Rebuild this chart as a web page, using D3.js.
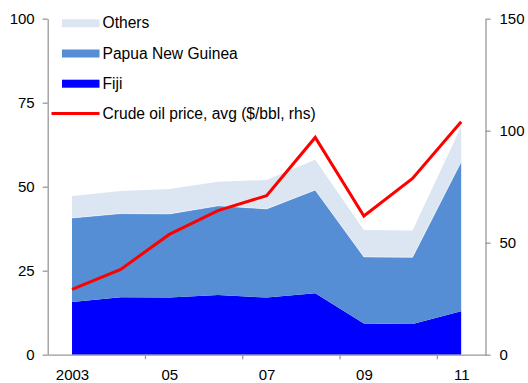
<!DOCTYPE html>
<html>
<head>
<meta charset="utf-8">
<script src="https://cdn.jsdelivr.net/npm/d3@7"></script>
<style>
  html, body { margin: 0; padding: 0; background: #fff; }
  svg { display: block; font-family: "Liberation Sans", Arial, sans-serif; }
</style>
</head>
<body>
<svg id="chart" width="528" height="383"></svg>
<script>
// Gas exports share by country (lhs, %) and crude oil price (rhs, $/bbl)
const years = [2003, 2004, 2005, 2006, 2007, 2008, 2009, 2010, 2011];
const yearLabels = ["2003", "05", "07", "09", "11"];
const fiji   = [15.7, 17.1, 17.0, 17.8, 17.0, 18.3, 9.3, 9.1, 12.9];
const png    = [25.0, 24.9, 24.9, 26.5, 26.4, 30.7, 19.8, 19.9, 44.5];
const others = [6.5, 6.7, 7.4, 7.2, 8.6, 9.0, 8.0, 8.0, 10.5];
const oil    = [29.2, 38.1, 53.7, 64.3, 71.0, 97.0, 61.9, 78.7, 104.0];
const leftTicks = [0, 25, 50, 75, 100];
const rightTicks = [0, 50, 100, 150];

const seriesKeys = ["fiji", "png", "others"];
const seriesNames = { fiji: "Fiji", png: "Papua New Guinea", others: "Others" };
const colors = { fiji: "#0000ff", png: "#558ed5", others: "#dce6f2", oil: "#ff0000" };

const rows = years.map((y, i) => ({ i, year: y, fiji: fiji[i], png: png[i], others: others[i] }));

const svg = d3.select("#chart");
const plot = { left: 47.7, right: 485.5, top: 18.7, bottom: 354.7 };

const x = d3.scaleLinear().domain([-0.5, years.length - 0.5]).range([plot.left, plot.right]);
const yL = d3.scaleLinear().domain([0, 100]).range([plot.bottom, plot.top]);
const yR = d3.scaleLinear().domain([0, 150]).range([plot.bottom, plot.top]);

// stacked areas
const stacked = d3.stack().keys(seriesKeys)(rows);
const area = d3.area()
  .x(d => x(d.data.i))
  .y0(d => yL(d[0]))
  .y1(d => yL(d[1]));

svg.append("g").selectAll("path")
  .data(stacked)
  .join("path")
  .attr("d", area)
  .attr("fill", d => colors[d.key]);

// faint seam along the top of the PNG layer
const seam = d3.line().x(d => x(d.data.i)).y(d => yL(d[1]));
svg.append("path")
  .attr("d", seam(stacked[1]))
  .attr("fill", "none")
  .attr("stroke", "#ffffff")
  .attr("stroke-opacity", 0.6)
  .attr("stroke-width", 0.8);

// oil price line on right axis
const line = d3.line().x((d, i) => x(i)).y(d => yR(d));
svg.append("path")
  .attr("d", line(oil))
  .attr("fill", "none")
  .attr("stroke", colors.oil)
  .attr("stroke-width", 3)
  .attr("stroke-linejoin", "miter");

// axes
const axisColor = "#999999";
const fontSize = "15px";

function styleAxis(g) {
  g.selectAll("path, line").attr("stroke", axisColor).attr("stroke-width", 1.3);
  g.selectAll("text").attr("fill", "#000").style("font-size", fontSize);
}

svg.append("g")
  .attr("transform", `translate(${plot.left},0)`)
  .call(d3.axisLeft(yL).tickValues(leftTicks).tickSize(5).tickSizeOuter(0).tickPadding(8))
  .call(styleAxis)
  .call(g => g.selectAll("text").attr("dy", "0.34em"));

svg.append("g")
  .attr("transform", `translate(${plot.right},0)`)
  .call(d3.axisRight(yR).tickValues(rightTicks).tickSize(5).tickSizeOuter(0).tickPadding(9))
  .call(styleAxis)
  .call(g => g.selectAll("text").attr("dy", "0.34em"));

// x axis: tick marks between odd-year categories, labels at category centres
const boundaryTicks = [1.5, 3.5, 5.5, 7.5];
svg.append("g")
  .attr("transform", `translate(0,${plot.bottom})`)
  .call(d3.axisBottom(x).tickValues(boundaryTicks).tickSize(4.5).tickSizeOuter(0).tickFormat(""))
  .call(styleAxis);

const labelIdx = [0, 2, 4, 6, 8];
svg.append("g")
  .attr("transform", `translate(0,${plot.bottom})`)
  .call(d3.axisBottom(x).tickValues(labelIdx).tickSize(0).tickPadding(14.5)
    .tickFormat((d, k) => yearLabels[k]))
  .call(styleAxis)
  .call(g => g.select(".domain").remove());

// legend
const legendItems = [
  { key: "others", type: "area" },
  { key: "png", type: "area" },
  { key: "fiji", type: "area" },
  { key: "oil", type: "line", name: "Crude oil price, avg ($/bbl, rhs)" }
];
const legend = svg.append("g");
legendItems.forEach((it, k) => {
  const baseY = 28.3 + k * 30.2;
  const g = legend.append("g");
  if (it.type === "area") {
    g.append("rect")
      .attr("x", 62).attr("y", baseY - 9)
      .attr("width", 37.5).attr("height", 8)
      .attr("fill", colors[it.key]);
  } else {
    g.append("line")
      .attr("x1", 51.5).attr("x2", 99.5)
      .attr("y1", baseY - 5.3).attr("y2", baseY - 5.3)
      .attr("stroke", colors.oil).attr("stroke-width", 3);
  }
  g.append("text")
    .attr("x", 102.5).attr("y", baseY)
    .style("font-size", "15.6px")
    .attr("fill", "#000")
    .text(it.name || seriesNames[it.key]);
});
</script>
</body>
</html>
